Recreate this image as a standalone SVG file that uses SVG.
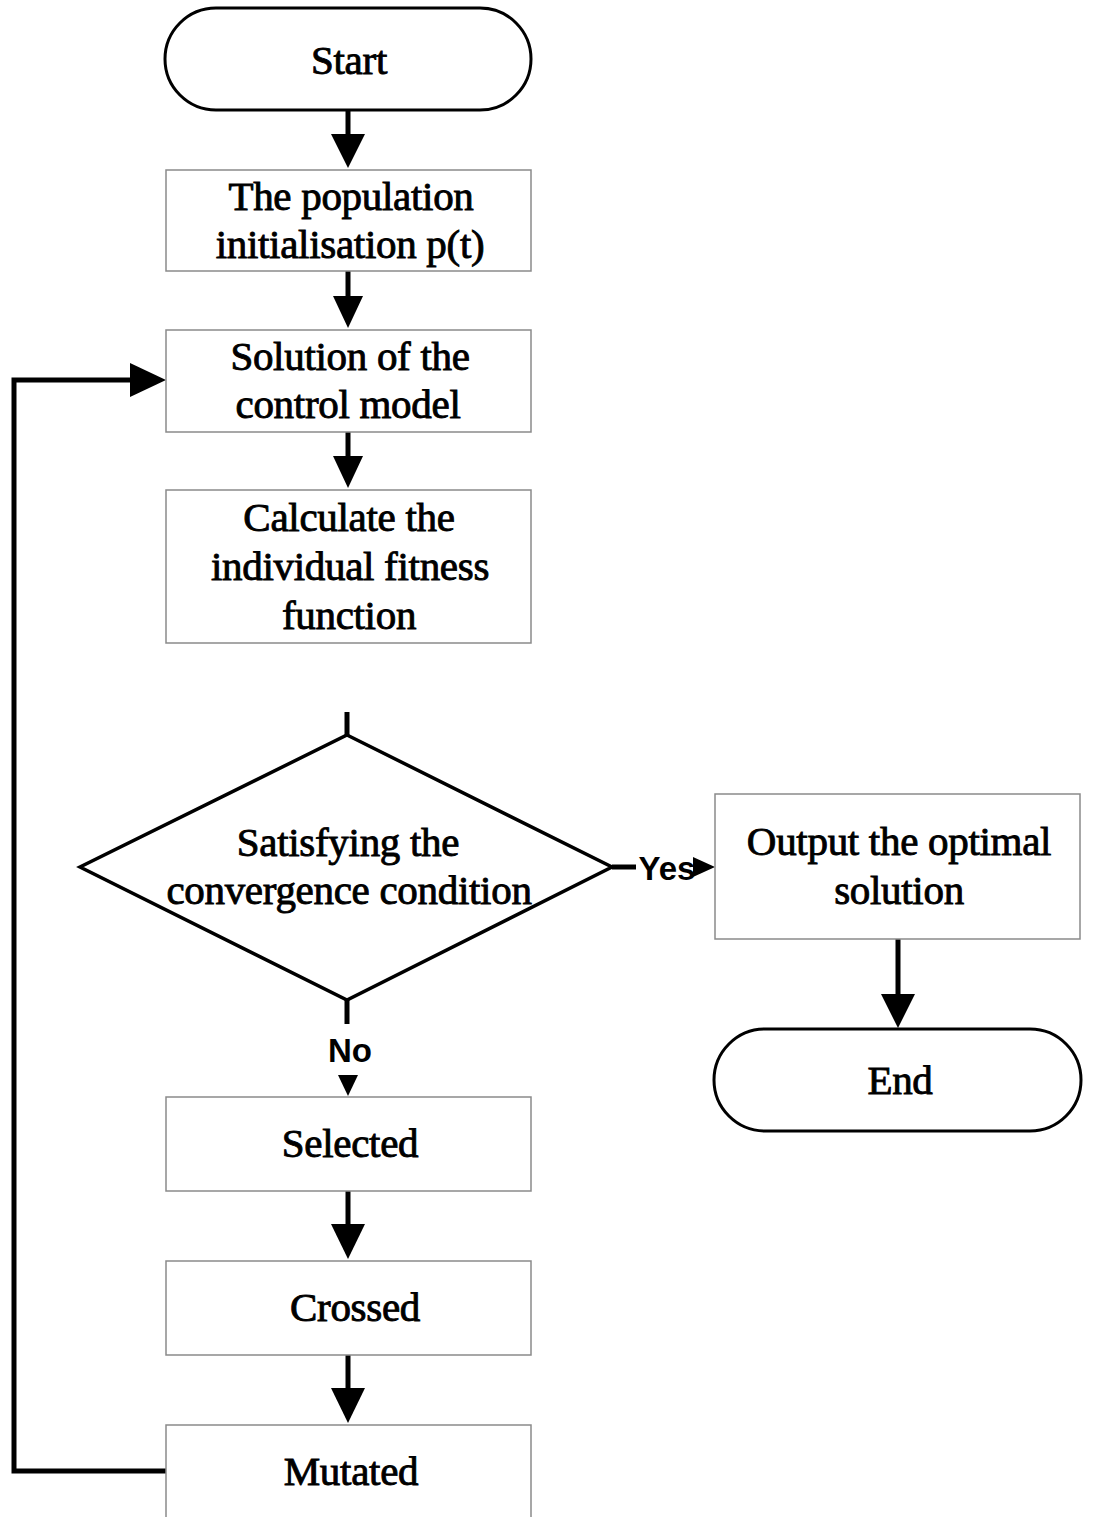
<svg xmlns="http://www.w3.org/2000/svg" width="1093" height="1517" viewBox="0 0 1093 1517">
<style>
.term{fill:#fff;stroke:#000;stroke-width:3}
.box{fill:#fff;stroke:#8a8a8a;stroke-width:1.5}
.dia{fill:#fff;stroke:#000;stroke-width:3.5}
.t{font-family:"Liberation Serif","Times New Roman",serif;font-size:41px;fill:#000;text-anchor:middle;letter-spacing:-0.3px;stroke:#000;stroke-width:0.9}
.s{font-family:"Liberation Sans",Arial,sans-serif;font-size:33px;font-weight:bold;fill:#000;text-anchor:middle}
.ln{fill:none;stroke:#000;stroke-width:5}
.hd{fill:#000}
</style>
<rect width="1093" height="1517" fill="#fff"/>
<g id="connectors">
<line class="ln" x1="348" y1="110" x2="348" y2="136"/>
<polygon class="hd" points="331,134 365,134 348,168"/>
<line class="ln" x1="348" y1="271" x2="348" y2="298"/>
<polygon class="hd" points="333,296 363,296 348,328"/>
<line class="ln" x1="348" y1="432" x2="348" y2="458"/>
<polygon class="hd" points="333,456 363,456 348,488"/>
<line class="ln" x1="347" y1="712" x2="347" y2="735"/>
<line class="ln" x1="347" y1="1000" x2="347" y2="1024"/>
<polygon class="hd" points="338,1075 358,1075 348,1096"/>
<line class="ln" x1="612" y1="867" x2="636" y2="867"/>
<polygon class="hd" points="693,857 715,867 693,877"/>
<line class="ln" x1="898" y1="939" x2="898" y2="996"/>
<polygon class="hd" points="881,994 915,994 898,1028"/>
<line class="ln" x1="348" y1="1191" x2="348" y2="1226"/>
<polygon class="hd" points="331,1224 365,1224 348,1259"/>
<line class="ln" x1="348" y1="1355" x2="348" y2="1390"/>
<polygon class="hd" points="331,1388 365,1388 348,1423"/>
<polyline class="ln" points="166,1471 14,1471 14,380 132,380"/>
<polygon class="hd" points="130,363 130,397 166,380"/>
<text class="s" x="667" y="880">Yes</text>
<text class="s" x="350" y="1062">No</text>
</g>
<g id="start">
<rect class="term" x="165" y="8" width="366" height="102" rx="51" ry="51"/>
<text class="t" x="349" y="74">Start</text>
</g>
<g id="init">
<rect class="box" x="166" y="170" width="365" height="101"/>
<text class="t" x="351" y="210">The population</text>
<text class="t" x="350" y="258">initialisation p(t)</text>
</g>
<g id="solve">
<rect class="box" x="166" y="330" width="365" height="102"/>
<text class="t" x="350" y="370">Solution of the</text>
<text class="t" x="348" y="418">control model</text>
</g>
<g id="fitness">
<rect class="box" x="166" y="490" width="365" height="153"/>
<text class="t" x="349" y="531">Calculate the</text>
<text class="t" x="350" y="580">individual fitness</text>
<text class="t" x="349" y="629">function</text>
</g>
<g id="decision">
<polygon class="dia" points="347,735 612,867 347,1000 80,867"/>
<text class="t" x="348" y="856">Satisfying the</text>
<text class="t" x="349" y="904">convergence condition</text>
</g>
<g id="output">
<rect class="box" x="715" y="794" width="365" height="145"/>
<text class="t" x="899" y="855">Output the optimal</text>
<text class="t" x="899" y="904">solution</text>
</g>
<g id="end">
<rect class="term" x="714" y="1029" width="367" height="102" rx="51" ry="51"/>
<text class="t" x="900" y="1094">End</text>
</g>
<g id="selected">
<rect class="box" x="166" y="1097" width="365" height="94"/>
<text class="t" x="350" y="1157">Selected</text>
</g>
<g id="crossed">
<rect class="box" x="166" y="1261" width="365" height="94"/>
<text class="t" x="355" y="1321">Crossed</text>
</g>
<g id="mutated">
<rect class="box" x="166" y="1425" width="365" height="120"/>
<text class="t" x="351" y="1485">Mutated</text>
</g>
</svg>
